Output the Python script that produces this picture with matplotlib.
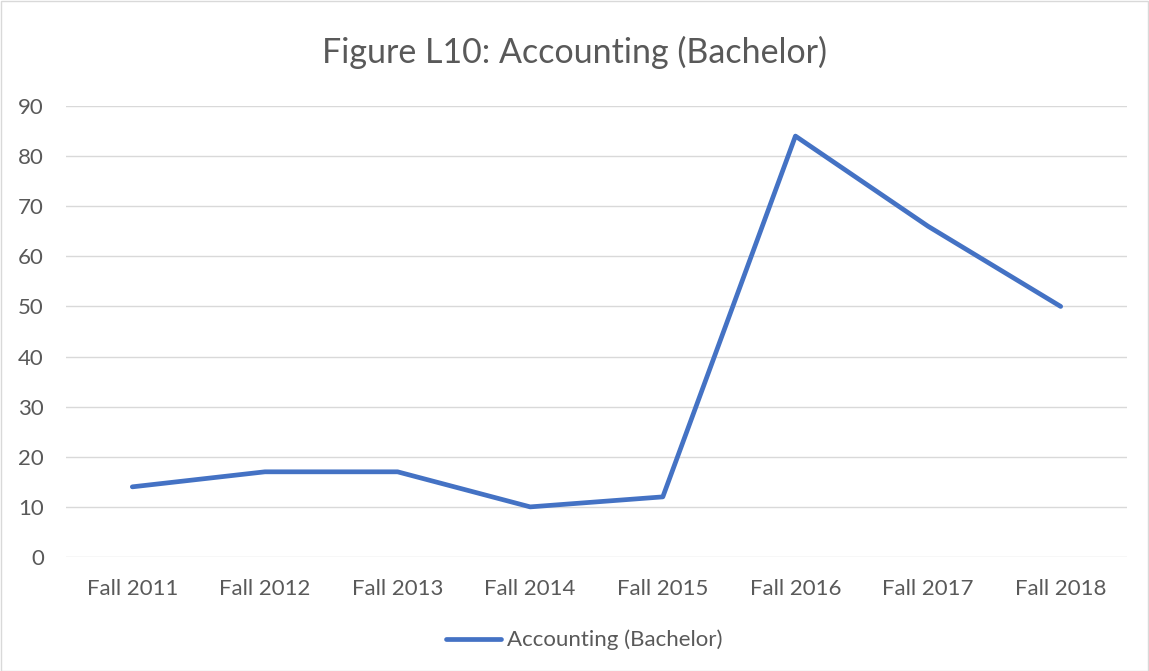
import matplotlib
matplotlib.use("Agg")
import matplotlib.pyplot as plt
from matplotlib.patches import Rectangle

categories = ["Fall 2011", "Fall 2012", "Fall 2013", "Fall 2014", "Fall 2015", "Fall 2016", "Fall 2017", "Fall 2018"]
values = [14, 17, 17, 10, 12, 84, 66, 50]
series_name = "Accounting (Bachelor)"
title = "Figure L10: Accounting (Bachelor)"
yticks = list(range(0, 100, 10))

plt.rcParams['font.family'] = ['Lato', 'DejaVu Sans']
W, H = 1149, 671
fig = plt.figure(figsize=(W / 100, H / 100), dpi=100)
fig.patches.append(Rectangle((0.5 / W, 0.5 / H), 1 - 1.5 / W, 1 - 1.5 / H, transform=fig.transFigure,
                             fill=False, edgecolor="#D9D9D9", linewidth=1))

left, right = 66, 1127
top, bottom = 106, 557
ax = fig.add_axes([left / W, 1 - bottom / H, (right - left) / W, (bottom - top) / H])
x = list(range(len(categories)))
line, = ax.plot(x, values, color="#4472C4", linewidth=3.4, solid_capstyle="round", solid_joinstyle="round",
                label=series_name, zorder=3)
ax.set_xlim(-0.5, len(categories) - 0.5)
ax.set_ylim(0, 90)
ax.set_yticks(yticks)
ax.set_xticks(x)
ax.set_xticklabels(categories)
ax.grid(axis="y", color="#D9D9D9", linewidth=1)
ax.set_axisbelow(True)
for s in ax.spines.values():
    s.set_visible(False)
ax.tick_params(axis="both", length=0, labelsize=16, labelcolor="#595959")
ax.tick_params(axis="x", pad=16)
ax.tick_params(axis="y", pad=16)

fig.text(0.5, 1 - 52 / H, title, ha="center", va="center", fontsize=24.5, color="#595959")
fig.legend(handles=[line], loc="center", bbox_to_anchor=(584 / W, 1 - 640 / H), frameon=False,
           fontsize=16, labelcolor="#595959", handlelength=2.5, handletextpad=0.25)

fig.savefig("out.png", dpi=100)
